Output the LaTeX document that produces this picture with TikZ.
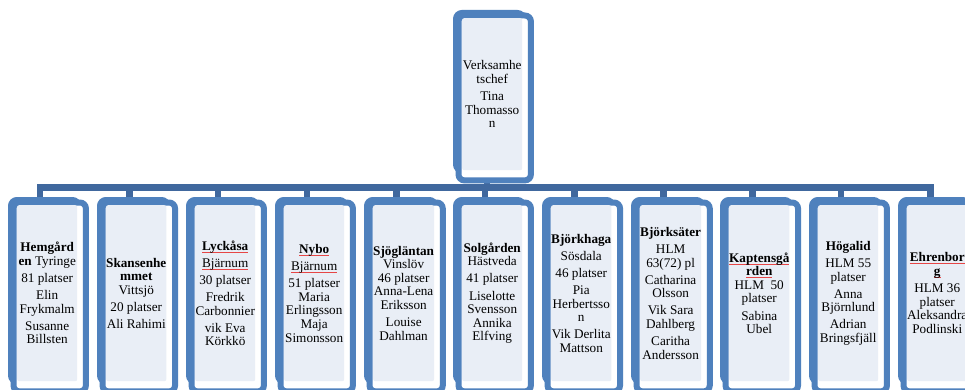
\documentclass[tikz,border=0pt]{standalone}
\usepackage{fontspec}
\setmainfont{Liberation Serif}
\usetikzlibrary{calc}
\definecolor{bord}{RGB}{79,129,189}
\definecolor{barc}{RGB}{64,104,158}
\definecolor{lite}{RGB}{233,238,246}
\definecolor{squig}{RGB}{230,70,70}
\pgfdeclarelayer{links}\pgfdeclarelayer{frames}\pgfsetlayers{links,frames,main}
\newcommand\sqz[1]{\setbox0\hbox{#1}\leavevmode\rlap{\textcolor{squig}{\rule[-2pt]{\wd0}{0.5pt}}}\box0}
\newcommand\orgbox[5]{%
  \node[card, minimum height=#4] (#1) at (#2,#3) {#5};
  \begin{pgfonlayer}{frames}
    \draw[frame] ($(#1.north west)+(-6,-5)$) rectangle ($(#1.south east)+(1,0)$);
    \draw[frame, fill=white] ($(#1.north west)+(-3.5,-2.5)$) rectangle ($(#1.south east)+(8.5,10)$);
  \end{pgfonlayer}}
\begin{document}
\begin{tikzpicture}[x=1pt,y=-1pt,
  card/.style={anchor=north west, fill=lite, rounded corners=2pt, inner sep=0pt,
    minimum width=60pt, align=center, font=\fontsize{13.2}{13.6}\selectfont},
  frame/.style={draw=bord, line width=6pt, rounded corners=6pt},
  link/.style={draw=barc, line width=6.5pt}]
\useasboundingbox (0,0) rectangle (965,390);
\begin{pgfonlayer}{links}
  \fill[white] (0,0) rectangle (965,390);
\end{pgfonlayer}

\orgbox{top}{462}{18}{152pt}{Verksamhe\\tschef\\[3.5pt]Tina\\Thomasso\\n}

\orgbox{c1}{17}{205}{176pt}{\textbf{Hemgård}\\\textbf{en} Tyringe\\[3.5pt]81 platser\\[3.5pt]Elin\\Frykmalm\\[3.5pt]Susanne\\Billsten}
\orgbox{c2}{106}{205}{176pt}{\textbf{Skansenhe}\\\textbf{mmet}\\Vittsjö\\[3.5pt]20 platser\\[3.5pt]Ali Rahimi}
\orgbox{c3}{195}{205}{176pt}{\textbf{\sqz{Lyckåsa}}\\[3.5pt]\sqz{Bjärnum}\\[3.5pt]30 platser\\[3.5pt]Fredrik\\Carbonnier\\[3.5pt]vik Eva\\Körkkö}
\orgbox{c4}{284}{205}{176pt}{\textbf{\sqz{Nybo}}\\[3.5pt]\sqz{Bjärnum}\\[3.5pt]51 platser\\Maria\\Erlingsson\\Maja\\Simonsson}
\orgbox{c5}{373}{205}{176pt}{\textbf{Sjögläntan}\\Vinslöv\\46 platser\\Anna-Lena\\Eriksson\\[3.5pt]Louise\\Dahlman}
\orgbox{c6}{462}{205}{176pt}{\textbf{Solgården}\\Hästveda\\[3.5pt]41 platser\\[3.5pt]Liselotte\\Svensson\\Annika\\Elfving}
\orgbox{c7}{551}{205}{176pt}{\textbf{Björkhaga}\\[3.5pt]Sösdala\\[3.5pt]46 platser\\[3.5pt]Pia\\Herbertsso\\n\\[3.5pt]Vik Derlita\\Mattson}
\orgbox{c8}{640}{205}{176pt}{\textbf{Björksäter}\\[3.5pt]HLM\\63(72) pl\\[3.5pt]Catharina\\Olsson\\[3.5pt]Vik Sara\\Dahlberg\\[3.5pt]Caritha\\Andersson}
\orgbox{c9}{729}{205}{176pt}{\textbf{\sqz{Kaptensgå}}\\\textbf{\sqz{rden}}\\HLM~~50\\platser\\[3.5pt]Sabina\\Ubel}
\orgbox{c10}{818}{205}{176pt}{\textbf{Högalid}\\[3.5pt]HLM 55\\platser\\[3.5pt]Anna\\Björnlund\\[3.5pt]Adrian\\Bringsfjäll}
\orgbox{c11}{907}{205}{176pt}{\textbf{\sqz{Ehrenbor}}\\\textbf{\sqz{g}}\\[3.5pt]HLM 36\\platser\\Aleksandra\\Podlinski}

\coordinate (bus) at (0,187.5);
\coordinate (root) at ([xshift=-5pt]top.south);
\begin{pgfonlayer}{links}
\foreach \i in {1,...,11}{
  \coordinate (in\i) at ([xshift=-7pt]c\i.north);
  \draw[link] (root) |- (in\i |- bus) -- (in\i);
}
\end{pgfonlayer}
\end{tikzpicture}
\end{document}
